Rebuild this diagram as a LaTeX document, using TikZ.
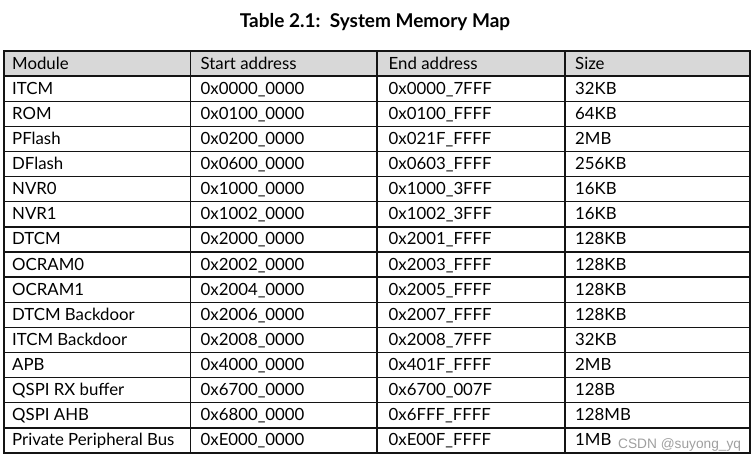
\documentclass[tikz,border=0pt]{standalone}
\usepackage{fontspec}
\setmainfont{Lato}
\newfontfamily\csdnfont{Liberation Sans}
\usepackage{xcolor}
\definecolor{headgray}{RGB}{216,216,216}
\definecolor{rulegray}{RGB}{20,20,20}

\begin{document}
\begin{tikzpicture}[x=1pt,y=-1pt,
  cell/.style={anchor=base west,inner sep=0pt,font=\fontsize{16.8}{18}\selectfont},
  rule/.style={draw=rulegray,line width=1.4pt},
  frame/.style={draw=rulegray,line width=1.8pt}]
  \useasboundingbox (0,0) rectangle (756,461);
  % title
  \node[anchor=base,inner sep=0pt,font=\fontsize{19}{21}\bfseries\selectfont] (title) at (375,27) {Table 2.1:\ \ System Memory Map};
  % header row
  \fill[headgray] (4,51) rectangle (750,76.1);
  \node[cell] (hmod) at (12,69) {Module};
  \node[cell] (hstart) at (200.5,69) {Start address};
  \node[cell] (hend) at (388.5,69) {End address};
  \node[cell] (hsize) at (575,69) {Size};
  % grid
  \foreach \k in {1,...,15}
    \draw[rule] (4,51+\k*25.125) -- (750,51+\k*25.125);
  \foreach \c in {190.7,377,565}
    \draw[rule] (\c,51) -- (\c,453);
  \draw[frame] (4,51) rectangle (750,453);
  % body
  \foreach \mod/\st/\en/\sz [count=\i] in {
      ITCM/0x0000\_0000/0x0000\_7FFF/32KB,
      ROM/0x0100\_0000/0x0100\_FFFF/64KB,
      PFlash/0x0200\_0000/0x021F\_FFFF/2MB,
      DFlash/0x0600\_0000/0x0603\_FFFF/256KB,
      NVR0/0x1000\_0000/0x1000\_3FFF/16KB,
      NVR1/0x1002\_0000/0x1002\_3FFF/16KB,
      DTCM/0x2000\_0000/0x2001\_FFFF/128KB,
      OCRAM0/0x2002\_0000/0x2003\_FFFF/128KB,
      OCRAM1/0x2004\_0000/0x2005\_FFFF/128KB,
      DTCM Backdoor/0x2006\_0000/0x2007\_FFFF/128KB,
      ITCM Backdoor/0x2008\_0000/0x2008\_7FFF/32KB,
      APB/0x4000\_0000/0x401F\_FFFF/2MB,
      QSPI RX buffer/0x6700\_0000/0x6700\_007F/128B,
      QSPI AHB/0x6800\_0000/0x6FFF\_FFFF/128MB,
      Private Peripheral Bus/0xE000\_0000/0xE00F\_FFFF/1MB}
  {
    \node[cell] (mod-\i) at (12,69+\i*25.125) {\mod};
    \node[cell] (start-\i) at (200.5,69+\i*25.125) {\st};
    \node[cell] (end-\i) at (388.5,69+\i*25.125) {\en};
    \node[cell] (size-\i) at (575,69+\i*25.125) {\sz};
  }
  % watermark
  \node[anchor=base west,inner sep=0pt,text=gray!75,font=\csdnfont\fontsize{13.7}{15}\selectfont] (csdn) at (618,448) {CSDN @suyong\_yq};
\end{tikzpicture}
\end{document}
